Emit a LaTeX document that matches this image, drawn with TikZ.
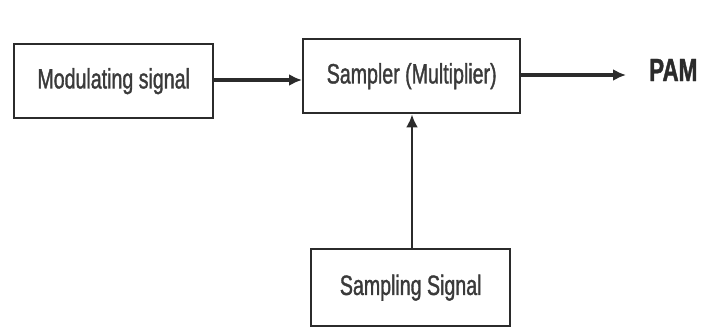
\documentclass[tikz,border=0pt]{standalone}
\usepackage{fontspec}
\setmainfont{Liberation Sans}[FakeStretch=0.70,FakeBold=1.2]
\usetikzlibrary{arrows.meta}
\definecolor{ink}{HTML}{2B2B2B}
\definecolor{txt}{HTML}{3A3A3A}
\begin{document}
\begin{tikzpicture}[x=1pt,y=-1pt,
  blockbox/.style={draw=ink, line width=2.4pt, inner sep=0pt, anchor=north west,
    text=txt, font=\fontsize{28}{32}\selectfont},
  flow/.style={draw=ink, line width=3.4pt, -{Latex[length=13pt,width=12pt]}}]
  \useasboundingbox (0,0) rectangle (703,327);
  % blocks of the sampling chain
  \node[blockbox, minimum width=199pt, minimum height=74pt] (mod) at (13,43) {Modulating signal};
  \node[blockbox, minimum width=217pt, minimum height=74pt] (samp) at (302,38) {Sampler (Multiplier)};
  \node[blockbox, minimum width=199pt, minimum height=77pt] (sig) at (310,248) {Sampling Signal};
  % output label
  \node[anchor=west, inner sep=0pt, text=ink, font=\bfseries\fontsize{32}{36}\selectfont] (pam) at (649,70) {PAM};
  \coordinate (out) at (626,75);
  % connectors
  \draw[flow] (mod.east |- 0,80) -- (samp.west |- 0,80);
  \draw[flow] (samp.east |- out) -- (out);
  \draw[flow, line width=2.6pt] (sig.north -| 412,0) -- (samp.south -| 412,0);
\end{tikzpicture}
\end{document}
